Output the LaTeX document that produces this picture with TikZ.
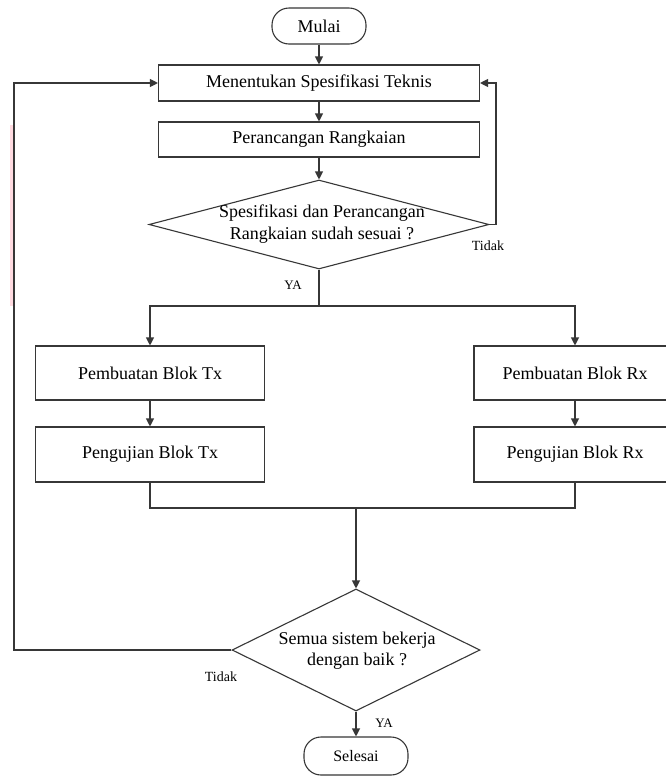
\documentclass[tikz,border=0pt]{standalone}
\usepackage{fontspec}
\setmainfont{Liberation Serif}
\usetikzlibrary{arrows.meta,shapes.geometric}
\definecolor{lnc}{RGB}{55,55,55}
\definecolor{artpink}{RGB}{255,218,224}
\begin{document}
\begin{tikzpicture}[x=1pt,y=-1pt,
  line/.style={draw=lnc, line width=1.1pt},
  arr/.style={line, -{Triangle[length=8pt,width=8pt]}},
  box/.style={draw=lnc, line width=1.1pt, rectangle, inner sep=0pt,
    font=\fontsize{18}{21}\selectfont},
  term/.style={box, rounded corners=17pt},
  diam/.style={draw=lnc, line width=1.1pt, diamond, inner sep=0pt},
  dtext/.style={align=center, inner sep=0pt, font=\fontsize{18}{21.5}\selectfont},
  lbl/.style={inner sep=0pt, font=\fontsize{14}{16}\selectfont}
]
\useasboundingbox[fill=white] (0,0) rectangle (665,777);
\fill[artpink] (10,125) rectangle (13,306);

\node[term, minimum width=94pt, minimum height=36pt] (mulai) at (319,26) {Mulai};
\node[box, minimum width=321pt, minimum height=36pt] (spek) at (319,83) {Menentukan Spesifikasi Teknis};
\node[box, minimum width=321pt, minimum height=35pt] (ranc) at (319,139.5) {Perancangan Rangkaian};
\node[diam, minimum width=340pt, minimum height=89pt] (d1) at (319,224.5) {};
\node[dtext] (d1t) at (322,224) {Spesifikasi dan Perancangan\\Rangkaian sudah sesuai ?};

\node[box, minimum width=229pt, minimum height=54pt] (tx1) at (150,373) {Pembuatan Blok Tx};
\node[box, minimum width=229pt, minimum height=55pt] (tx2) at (150,454.5) {Pengujian Blok Tx};
\node[box, minimum width=202pt, minimum height=54pt] (rx1) at (575,373) {Pembuatan Blok Rx};
\node[box, minimum width=202pt, minimum height=55pt] (rx2) at (575,454.5) {Pengujian Blok Rx};

\node[diam, minimum width=248pt, minimum height=122pt] (d2) at (356,650) {};
\node[dtext] (d2t) at (357,650.5) {Semua sistem bekerja\\dengan baik ?};
\node[term, minimum width=104pt, minimum height=38pt, font=\fontsize{16}{19}\selectfont] (selesai) at (356,756) {Selesai};

\node[lbl] (tidak1) at (488,246) {Tidak};
\node[lbl, font=\fontsize{13}{15}\selectfont] (ya1) at (293,285) {YA};
\node[lbl] (tidak2) at (221,677) {Tidak};
\node[lbl, font=\fontsize{13}{15}\selectfont] (ya2) at (384,723) {YA};

\coordinate (br) at (319,306);
\coordinate (mg) at (356,508);
\coordinate (rl) at (496,224.5);
\coordinate (ll) at (14,650);

\draw[arr] (mulai) -- (spek);
\draw[arr] (spek) -- (ranc);
\draw[arr] (ranc) -- (d1);
\draw[line] (d1.south) -- (br);
\draw[arr] (br) -| (tx1);
\draw[arr] (br) -| (rx1);
\draw[arr] (tx1) -- (tx2);
\draw[arr] (rx1) -- (rx2);
\draw[line] (tx2.south) |- (mg);
\draw[line] (rx2.south) |- (mg);
\draw[arr] (mg) -- (d2.north);
\draw[arr] (d2.south) -- (selesai);
\draw[arr] (d1.east) -- (rl) |- (spek.east);
\draw[arr] (d2.west) -- (ll) |- (spek.west);
\end{tikzpicture}
\end{document}
